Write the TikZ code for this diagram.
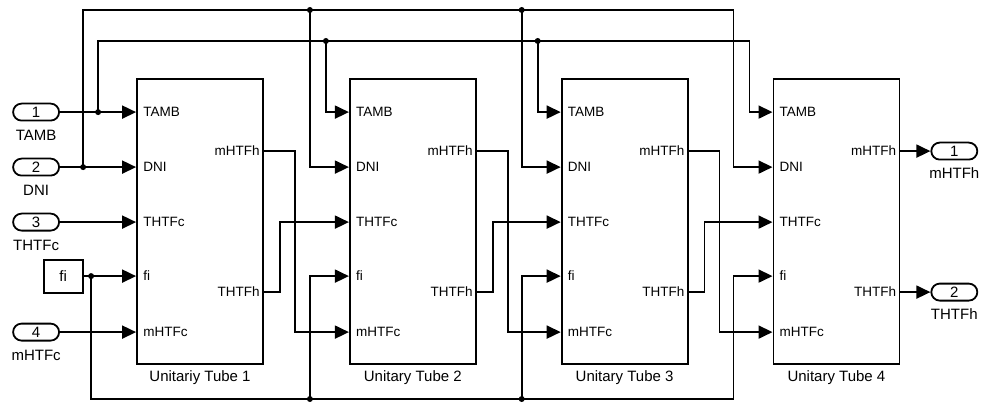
\documentclass[tikz,border=0pt]{standalone}
\usepackage{fontspec}
\setmainfont{Liberation Sans}
\usetikzlibrary{arrows.meta, positioning, calc}
\tikzset{
    tube/.style = {rectangle, minimum width=126pt, minimum height=285pt, inner sep=0pt, draw=black, line width=1.8pt},
    inport/.style = {rectangle, rounded corners=8.5pt, minimum width=46pt, minimum height=17pt, inner sep=0pt, draw=black, line width=1.8pt, font=\fontsize{15}{15}\selectfont},
    const/.style = {rectangle, minimum width=39pt, minimum height=33pt, inner sep=0pt, draw=black, line width=1.8pt, font=\fontsize{15}{15}\selectfont},
    pinlabel/.style = {inner sep=0pt, font=\fontsize{13.5}{13.5}\selectfont},
    portname/.style = {inner sep=0pt, font=\fontsize{15}{15}\selectfont},
    below name/.style = {portname, yshift=-8pt},
    wire/.style = {line width=1.8pt},
    arrow/.style = {wire, -{Triangle[length=14pt, width=13pt]}},
    junction/.style = {circle, fill=black, inner sep=0pt, minimum size=6pt}
}

\begin{document}
\begin{tikzpicture}[x=1pt, y=-1pt]
\useasboundingbox (0,0) rectangle (981,403);

\node (tube1) [tube] at (200,221.5) {};
\node (tube2) [tube, right=85pt of tube1] {};
\node (tube3) [tube, right=84pt of tube2] {};
\node (tube4) [tube, right=84pt of tube3] {};

\node (name1) [portname, below=6pt of tube1] {Unitariy Tube 1};
\node (name2) [portname, below=6pt of tube2] {Unitary Tube 2};
\node (name3) [portname, below=6pt of tube3] {Unitary Tube 3};
\node (name4) [portname, below=6pt of tube4] {Unitary Tube 4};

\foreach \i in {1,...,4} {
    \foreach \p/\dy in {TAMB/34, DNI/89, THTFc/144, fi/198, mHTFc/254} {
        \coordinate (t\i-\p) at ($(tube\i.north west)+(0,\dy)$);
        \node (l\i-\p) [pinlabel, anchor=west] at ($(t\i-\p)+(7,0)$) {\p};
    }
    \foreach \p/\dy in {mHTFh/73, THTFh/214} {
        \coordinate (t\i-\p) at ($(tube\i.north east)+(0,\dy)$);
        \node (l\i-\p) [pinlabel, anchor=east] at ($(t\i-\p)+(-4,0)$) {\p};
    }
}

\node (in1) [inport, label={[below name]below:TAMB}] at ($(t1-TAMB)+(-100,0)$) {1};
\node (in2) [inport, label={[below name]below:DNI}] at ($(t1-DNI)+(-100,0)$) {2};
\node (in3) [inport, label={[below name]below:THTFc}] at ($(t1-THTFc)+(-100,0)$) {3};
\node (in4) [inport, label={[below name]below:mHTFc}] at ($(t1-mHTFc)+(-100,0)$) {4};
\node (fi) [const] at ($(t1-fi)+(-73,0)$) {fi};

\node (out1) [inport, label={[below name, yshift=1pt]below:mHTFh}] at ($(t4-mHTFh)+(54,0)$) {1};
\node (out2) [inport, label={[below name, yshift=1pt]below:THTFh}] at ($(t4-THTFh)+(54,0)$) {2};

\coordinate (topbus) at (0,10);
\coordinate (midbus) at (0,41);
\coordinate (botbus) at (0,399);
\coordinate (tambA) at ($(t1-TAMB)+(-38,0)$);
\coordinate (dniA) at ($(t1-DNI)+(-53,0)$);
\coordinate (fiA) at ($(t1-fi)+(-45,0)$);

\draw [arrow] (in1) -- (t1-TAMB);
\draw [arrow] (in2) -- (t1-DNI);
\draw [arrow] (in3) -- (t1-THTFc);
\draw [arrow] (fi) -- (t1-fi);
\draw [arrow] (in4) -- (t1-mHTFc);

\foreach \j in {2,3,4} {
    \coordinate (a\j) at ($(t\j-TAMB)+(-23,0)$);
    \coordinate (d\j) at ($(t\j-DNI)+(-39,0)$);
    \coordinate (f\j) at ($(t\j-fi)+(-39,0)$);
}

\draw [arrow] (tambA) -- (tambA |- midbus) -| (a4) -- (t4-TAMB);
\draw [arrow] (dniA) -- (dniA |- topbus) -| (d4) -- (t4-DNI);
\draw [arrow] (fiA) -- (fiA |- botbus) -| (f4) -- (t4-fi);

\foreach \j in {2,3} {
    \draw [arrow] (a\j |- midbus) -- (a\j) -- (t\j-TAMB);
    \draw [arrow] (d\j |- topbus) -- (d\j) -- (t\j-DNI);
    \draw [arrow] (f\j |- botbus) -- (f\j) -- (t\j-fi);
    \node (ja\j) [junction] at (a\j |- midbus) {};
    \node (jd\j) [junction] at (d\j |- topbus) {};
    \node (jf\j) [junction] at (f\j |- botbus) {};
}

\foreach \i/\j in {1/2, 2/3, 3/4} {
    \draw [arrow] (t\i-mHTFh) -- ++(31,0) |- (t\j-mHTFc);
    \draw [arrow] (t\i-THTFh) -- ++(16,0) |- (t\j-THTFc);
}

\draw [arrow] (t4-mHTFh) -- (out1);
\draw [arrow] (t4-THTFh) -- (out2);

\node (jtamb) [junction] at (tambA) {};
\node (jdni) [junction] at (dniA) {};
\node (jfi) [junction] at (fiA) {};
\end{tikzpicture}
\end{document}
